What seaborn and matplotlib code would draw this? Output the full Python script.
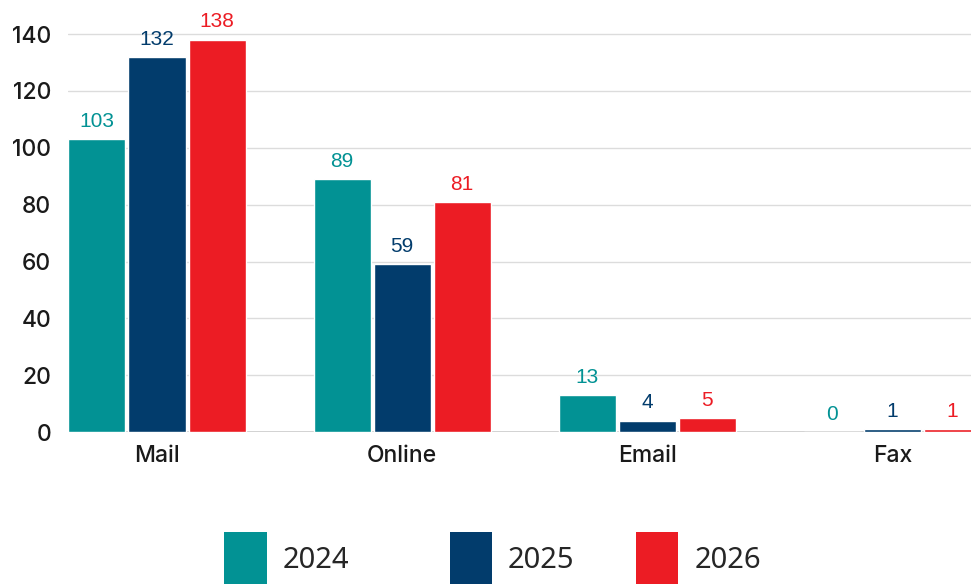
import matplotlib
matplotlib.use("Agg")
import matplotlib.pyplot as plt
from matplotlib.patches import Patch
import seaborn as sns
import pandas as pd

categories = ["Mail", "Online", "Email", "Fax"]
years = ["2024", "2025", "2026"]
values_2024 = [103, 89, 13, 0]
values_2025 = [132, 59, 4, 1]
values_2026 = [138, 81, 5, 1]
y_ticks = [0, 20, 40, 60, 80, 100, 120, 140]

colors = {"2024": "#029294", "2025": "#023C6C", "2026": "#EC1C24"}

rows = []
for year, vals in zip(years, [values_2024, values_2025, values_2026]):
    for cat, v in zip(categories, vals):
        rows.append({"channel": cat, "year": year, "count": v})
df = pd.DataFrame(rows)

sns.set_theme(style="white")
fig = plt.figure(figsize=(9.71, 5.84), dpi=100)
ax = fig.add_axes([0.07, 0.26, 0.93, 0.74])

sns.barplot(data=df, x="channel", y="count", hue="year", order=categories,
            hue_order=years, palette=colors, width=0.735, gap=0.05,
            saturation=1, legend=False, ax=ax, errorbar=None)

ax.set_xlim(-0.363, 3.32)
ax.set_ylim(0, 152)
ax.set_yticks(y_ticks)
ax.grid(axis="y", color="#dcdcdc", linewidth=1.0)
ax.set_axisbelow(True)
for s in ax.spines.values():
    s.set_visible(False)
ax.axhline(0, color="#c8c8c8", linewidth=1.2, zorder=0.5)
ax.set_xlabel("")
ax.set_ylabel("")
ax.tick_params(axis="both", length=0, labelsize=16.5, colors="#1a1a1a")
ax.tick_params(axis="y", pad=12)
ax.tick_params(axis="x", pad=9)
for lab in ax.get_xticklabels() + ax.get_yticklabels():
    lab.set_fontfamily("Inter")
    lab.set_fontweight("medium")

for container, year in zip(ax.containers, years):
    ax.bar_label(container, labels=[f"{int(b.get_height())}" for b in container],
                 padding=6, color=colors[year], fontsize=15,
                 fontfamily="Liberation Sans")

# one legend entry per year, spread along the bottom
legend_x = [0.216, 0.448, 0.64]
for x, year in zip(legend_x, years):
    fig.legend(handles=[Patch(facecolor=colors[year], edgecolor="none")],
               labels=[year], loc="center left", bbox_to_anchor=(x, 0.042),
               frameon=False, handlelength=1.45,
               handleheight=2.5, handletextpad=0.55, borderpad=0,
               prop={"family": "Noto Sans", "size": 21})

fig.savefig("out.png", dpi=100)
